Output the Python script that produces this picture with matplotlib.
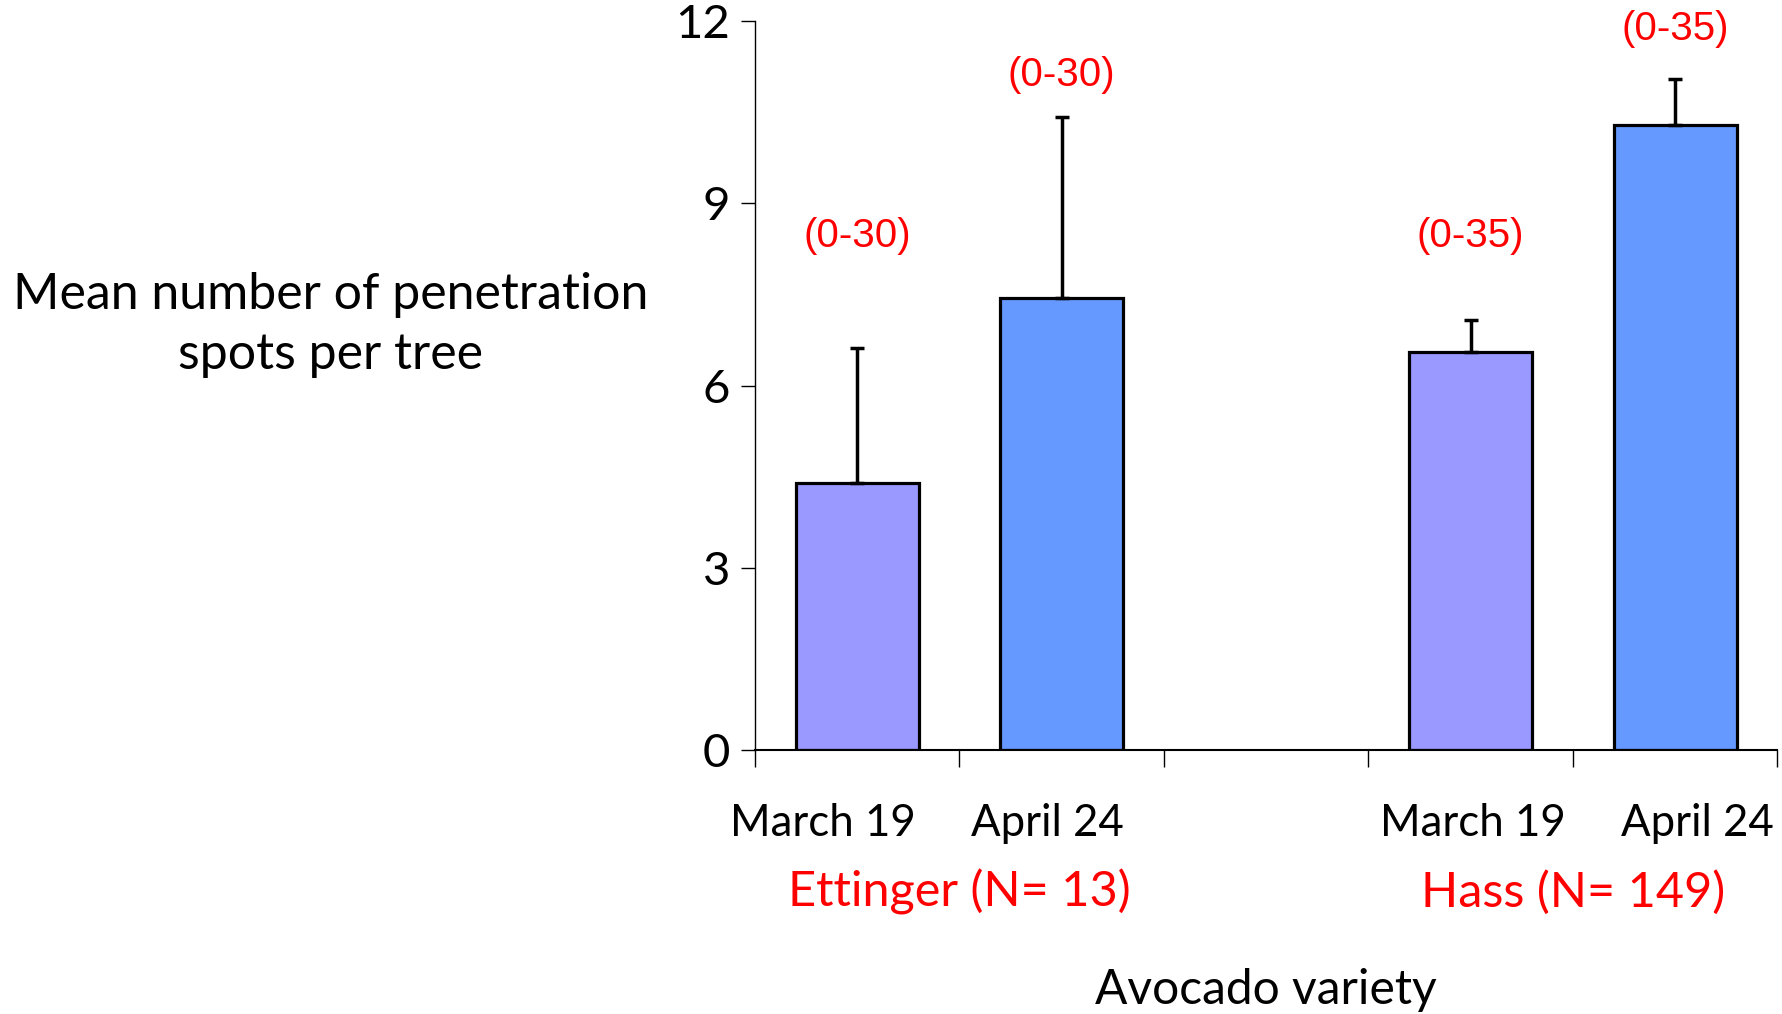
import matplotlib
matplotlib.use("Agg")
import matplotlib.pyplot as plt
from matplotlib.transforms import blended_transform_factory

# values
dates = ["March 19", "April 24", "March 19", "April 24"]
slots = [0, 1, 3, 4]          # category slot of each bar (slot 2 stays empty)
means = [4.4, 7.45, 6.55, 10.3]
upper_err = [2.22, 2.98, 0.53, 0.75]
ranges = ["(0-30)", "(0-30)", "(0-35)", "(0-35)"]
range_y = [8.46, 11.12, 8.46, 11.87]
varieties = ["Ettinger (N= 13)", "Hass (N= 149)"]
variety_x = [1.0, 4.0]
bar_colors = ["#9999FF", "#6699FF", "#9999FF", "#6699FF"]
# where the date labels sit (a bit off the bar centres, like the original)
date_x = [0.33, 1.43, 3.51, 4.61]

main_font = ["Lato", "DejaVu Sans"]
red_font = ["Liberation Sans", "DejaVu Sans"]

fig = plt.figure(figsize=(17.83, 10.14), dpi=100)
ax = fig.add_axes([0.4234, 0.2604, 0.5735, 0.7186])

centers = [s + 0.5 for s in slots]
ax.bar(centers, means, width=0.6, color=bar_colors, edgecolor="black", linewidth=2.3, zorder=2)
ax.errorbar(centers, means, yerr=[[0] * 4, upper_err], fmt="none", ecolor="black",
            elinewidth=2.5, capsize=5, capthick=2.5, zorder=3)

for x, y, t in zip(centers, range_y, ranges):
    ax.text(x, y, t, color="red", fontsize=29, ha="center", va="center", family=red_font)

ax.set_xlim(0, 5)
ax.set_ylim(0, 12)
ax.set_yticks([0, 3, 6, 9, 12])
ax.set_yticklabels(["0", "3", "6", "9", "12"], fontsize=34, family=main_font)
ax.tick_params(axis="y", length=10, width=1, pad=8)

ax.set_xticks(range(6))
ax.set_xticklabels([""] * 6)
ax.tick_params(axis="x", which="major", length=12, width=1)
ax.set_xticks(date_x, minor=True)
ax.set_xticklabels(dates, minor=True, fontsize=31.5, family=main_font)
ax.tick_params(axis="x", which="minor", length=0, pad=38)

for s in ["top", "right"]:
    ax.spines[s].set_visible(False)
ax.spines["left"].set_linewidth(1)
ax.spines["bottom"].set_linewidth(1.5)

trans = blended_transform_factory(ax.transData, ax.transAxes)
for x, t in zip(variety_x, varieties):
    ax.text(x, -0.195, t, transform=trans, color="red", fontsize=35, ha="center", va="center",
            family=main_font)
ax.text(2.5, -0.33, "Avocado variety", transform=trans, fontsize=34.5, ha="center", va="center",
        family=main_font)

fig.text(331 / 1783, 1 - 325 / 1014, "Mean number of penetration\nspots per tree", fontsize=36,
         ha="center", va="center", family=main_font, linespacing=1.4)

fig.savefig("out.png", dpi=100)
